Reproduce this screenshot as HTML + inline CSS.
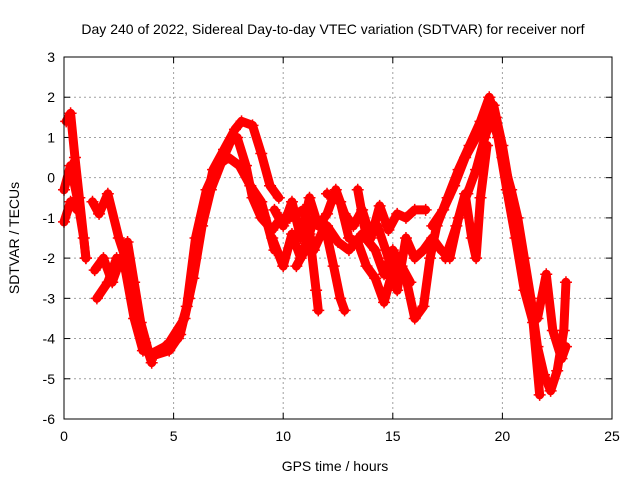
<!DOCTYPE html>
<html><head><meta charset="utf-8"><style>
body{margin:0;background:#fff;font-family:"Liberation Sans",sans-serif}
svg text{font-family:"Liberation Sans",sans-serif;font-size:14px;fill:#000}
</style></head><body>
<svg id="chart" width="640" height="480" xmlns="http://www.w3.org/2000/svg">
<text x="333" y="34" text-anchor="middle">Day 240 of 2022, Sidereal Day-to-day VTEC variation (SDTVAR) for receiver norf</text>
<text x="335" y="471" text-anchor="middle">GPS time / hours</text>
<text x="19" y="238" text-anchor="middle" transform="rotate(-90 19 238)">SDTVAR / TECUs</text>
<g id="grid"></g>
<g id="axes"></g>
<g id="marks"></g>
<rect x="64" y="57" width="548" height="362" fill="none" stroke="#000" stroke-width="1"/>
</svg>
<script>
const xTicks=[0,5,10,15,20,25];
const yTicks=[3,2,1,0,-1,-2,-3,-4,-5,-6];
const trackA=[[0,-0.3],[0.3,0.3],[0.6,-0.5],[0.9,-1.5],[1.0,-2.0]];
const trackB=[[0.1,1.4],[0.3,1.6],[0.5,0.5],[0.7,-0.5],[1.0,-2.0]];
const trackC=[[0,-1.1],[0.3,-0.6],[0.6,-0.8]];
const trackD=[[1.3,-0.6],[1.6,-0.9],[2.0,-0.4],[2.5,-1.5],[2.8,-2.0],[3.1,-3.0],[3.5,-3.8],[3.8,-4.3],[4.2,-4.4],[4.8,-4.3],[5.3,-3.9],[5.7,-3.0],[6.0,-2.0],[6.4,-0.8],[6.8,0.2],[7.3,0.7],[7.8,1.2],[8.1,1.4],[8.6,1.3],[9.0,0.6],[9.4,-0.2],[9.8,-0.5]];
const trackE=[[1.4,-2.3],[1.8,-2.0],[2.2,-2.6],[2.6,-2.0],[3.0,-2.6],[3.4,-3.5],[3.7,-4.1],[4.0,-4.6]];
const trackF=[[1.5,-3.0],[2.0,-2.6],[2.4,-2.0],[2.8,-2.3],[3.2,-3.5],[3.6,-4.3],[4.2,-4.4],[4.8,-4.1],[5.5,-3.5],[5.9,-2.5],[6.3,-1.2],[6.7,-0.3],[7.2,0.4],[7.6,0.9],[7.9,1.0],[8.3,0.3],[8.6,-0.5],[9.0,-1.0],[9.5,-1.3],[9.9,-1.0]];
const trackG=[[4.4,-4.3],[5.2,-4.0],[5.6,-3.2],[6.0,-1.5],[6.5,-0.3],[7.0,0.3],[7.5,0.5],[8.0,0.3],[8.5,-0.2],[9.0,-0.6],[9.6,-1.8]];
const trackH=[[16.8,-1.2],[17.3,-0.8],[17.8,-0.2],[18.3,0.5],[18.8,1.0],[19.3,1.6],[19.6,1.8],[20.0,0.8],[20.5,-0.8]];
const trackI=[[2.9,-1.6],[3.2,-2.6],[3.5,-3.6],[3.9,-4.4],[4.6,-4.2]];
const trackM1=[[9.6,-0.8],[10.0,-1.2],[10.4,-0.6],[10.8,-1.5],[11.2,-0.5],[11.6,-1.2],[12.0,-0.9],[12.4,-0.3],[12.8,-0.9],[13.2,-1.2],[13.6,-0.8],[14.0,-1.5],[14.4,-0.7],[14.8,-1.3],[15.2,-0.9],[15.6,-1.0],[16.0,-0.8],[16.5,-0.8]];
const trackM2=[[9.5,-1.5],[10.0,-2.2],[10.4,-1.4],[10.8,-2.0],[11.2,-1.4],[11.5,-2.8],[11.6,-3.3]];
const trackM3=[[10.3,-1.0],[10.9,-0.8],[11.4,-1.8],[11.9,-1.2],[12.3,-2.2],[12.6,-3.0],[12.8,-3.3]];
const trackM4=[[12.0,-0.4],[12.6,-0.6],[13.0,-1.5],[13.4,-1.6],[13.8,-2.2],[14.2,-2.5],[14.6,-3.1],[14.9,-2.5],[15.2,-2.0],[15.6,-2.5],[16.0,-3.5],[16.4,-3.2],[16.7,-2.0],[17.0,-1.2],[17.5,-0.5],[18.0,0.2],[18.5,0.8],[19.0,1.4],[19.4,2.0],[19.7,1.5],[20.0,0.5],[20.4,-0.3],[20.7,-1.0],[21.0,-2.0],[21.3,-3.0],[21.6,-4.2],[21.9,-4.9],[22.2,-5.3],[22.5,-4.8],[22.8,-3.8],[22.9,-2.6]];
const trackM5=[[13.4,-0.3],[13.8,-1.5],[14.3,-1.2],[14.8,-2.0],[15.2,-2.8],[15.6,-1.5],[16.0,-2.0],[16.4,-1.8],[16.8,-1.5],[17.2,-1.8],[17.6,-2.0],[18.0,-1.0],[18.4,-0.4],[18.8,0.2],[19.2,1.0],[19.5,1.5],[19.8,1.0],[20.2,-0.3],[20.6,-1.5],[21.0,-2.8],[21.4,-3.6],[21.7,-5.4]];
const trackM6=[[17.4,-2.0],[17.9,-1.2],[18.3,-0.4],[18.6,-1.5],[18.8,-2.0],[19.0,-0.5],[19.3,0.8]];
const trackM7=[[21.6,-3.5],[22.0,-2.4],[22.3,-3.8],[22.7,-4.5],[22.9,-4.2]];
const trackM8=[[10.6,-2.2],[11.0,-1.8],[11.4,-1.0],[12.0,-1.2],[12.5,-1.6],[13.0,-1.8],[13.6,-1.4],[14.2,-1.8],[14.6,-2.4],[15.0,-1.8],[15.4,-2.2],[15.8,-2.6]];
const tracks=[trackA,trackB,trackC,trackD,trackE,trackF,trackG,trackH,trackI,trackM1,trackM2,trackM3,trackM4,trackM5,trackM6,trackM7,trackM8];

const NS="http://www.w3.org/2000/svg";
const X0=64,X1=612,Y0=57,Y1=419;
const xs=v=>X0+(v-0)/(25-0)*(X1-X0);
const ys=v=>Y0+(3-v)/(3-(-6))*(Y1-Y0);
function mk(tag,attrs,parent){const e=document.createElementNS(NS,tag);for(const k in attrs)e.setAttribute(k,attrs[k]);parent.appendChild(e);return e;}
const grid=document.getElementById('grid'),axes=document.getElementById('axes'),marks=document.getElementById('marks');
xTicks.forEach(t=>{const x=xs(t);
 if(t>0&&t<25){const g=mk('line',{x1:x,x2:x,y1:Y0,y2:Y1,stroke:'#a0a0a0','stroke-dasharray':'2,3'},grid);
 
 }
 mk('line',{x1:x,x2:x,y1:Y1,y2:Y1-6,stroke:'#000'},axes);
 mk('line',{x1:x,x2:x,y1:Y0,y2:Y0+6,stroke:'#000'},axes);
 const l=mk('text',{x:x,y:Y1+22,'text-anchor':'middle'},axes);l.textContent=t;
 
 
});
yTicks.forEach(t=>{const y=ys(t);
 if(t<3&&t>-6){const g=mk('line',{x1:X0,x2:X1,y1:y,y2:y,stroke:'#a0a0a0','stroke-dasharray':'2,3'},grid);
 
 }
 mk('line',{x1:X0,x2:X0+6,y1:y,y2:y,stroke:'#000'},axes);
 mk('line',{x1:X1,x2:X1-6,y1:y,y2:y,stroke:'#000'},axes);
 const l=mk('text',{x:X0-9,y:y+5,'text-anchor':'end'},axes);l.textContent=t;
 
 
});
tracks.forEach((tr,i)=>{
 const p=mk('polyline',{points:tr.map(d=>xs(d[0])+','+ys(d[1])).join(' '),fill:'none',stroke:'#ff0000','stroke-width':9,'stroke-linejoin':'round','stroke-linecap':'round'},marks);
 
 
 tr.forEach(d=>{const x=xs(d[0]),y=ys(d[1]);
  const m=mk('path',{d:`M${x-6},${y}H${x+6}M${x},${y-6}V${y+6}`,stroke:'#ff0000','stroke-width':1.5},marks);
  
  
 });
});
</script>
</body></html>
